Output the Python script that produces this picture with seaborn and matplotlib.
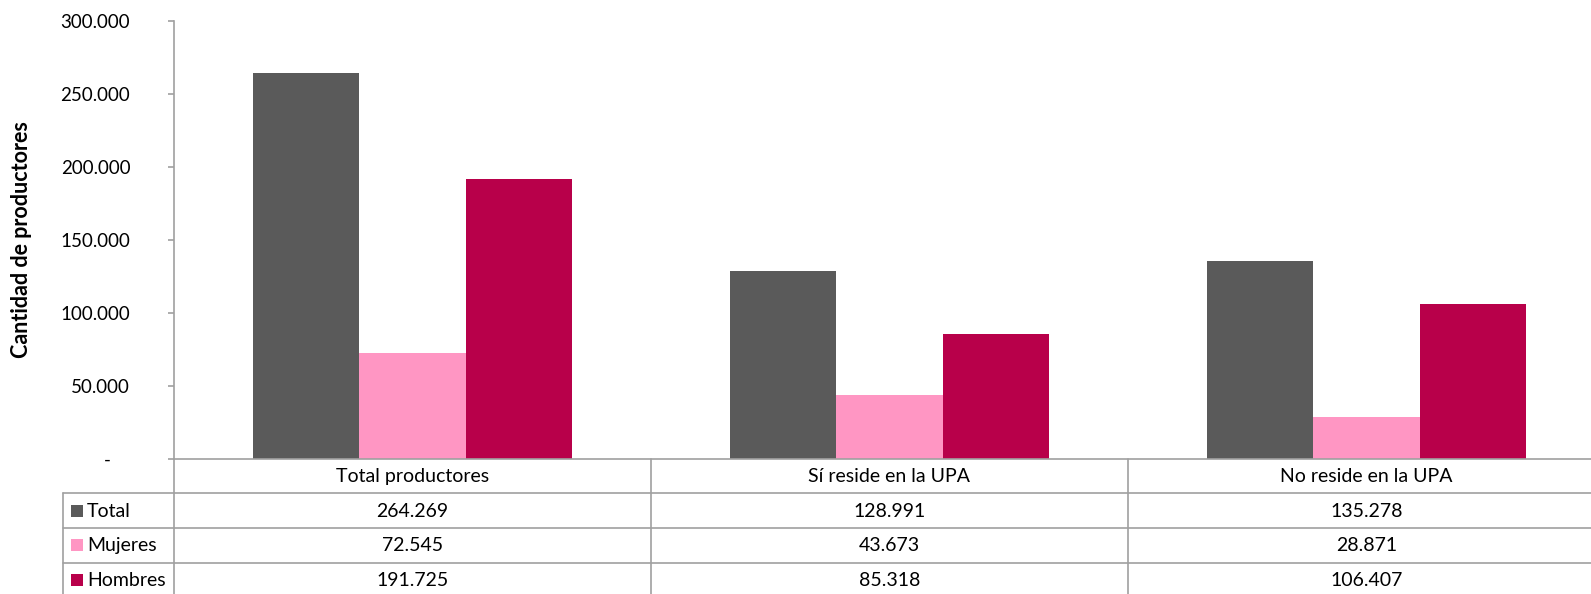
import matplotlib
matplotlib.use("Agg")
import matplotlib.pyplot as plt
import matplotlib.transforms as mtransforms
from matplotlib.ticker import FuncFormatter, MultipleLocator
import seaborn as sns
import pandas as pd

categories = ["Total productores", "Sí reside en la UPA", "No reside en la UPA"]
series = ["Total", "Mujeres", "Hombres"]
total = [264269, 128991, 135278]
mujeres = [72545, 43673, 28871]
hombres = [191725, 85318, 106407]
colors = ["#5A5A5A", "#FF96C3", "#B8004A"]
y_label = "Cantidad de productores"

values = {"Total": total, "Mujeres": mujeres, "Hombres": hombres}
df = pd.DataFrame(
    [(c, s, values[s][i]) for s in series for i, c in enumerate(categories)],
    columns=["cat", "serie", "val"],
)

sns.set_theme(style="white")
plt.rcParams["font.family"] = ["Lato", "DejaVu Sans"]

W, H = 1591, 594
fig = plt.figure(figsize=(W / 100, H / 100), dpi=100)

def fx(px):
    return px / W

def fy(py):
    return 1 - py / H

left_px, right_px = 174, 1605
top_px, base_px = 21, 459
row_h = 34.5
table_bottom_px = base_px + 4 * row_h
fs_table = 14

ax = fig.add_axes([fx(left_px), fy(base_px), fx(right_px - left_px), (base_px - top_px) / H])
sns.barplot(data=df, x="cat", y="val", hue="serie", hue_order=series,
            palette=colors, saturation=1, width=0.667, legend=False, ax=ax,
            edgecolor="none", errorbar=None)
ax.set_xlim(-0.5, 2.5)
ax.set_ylim(0, 300000)
ax.yaxis.set_major_locator(MultipleLocator(50000))

def fmt(v, pos):
    if abs(v) < 1:
        return "-    "
    return f"{int(round(v)):,}".replace(",", ".")

ax.yaxis.set_major_formatter(FuncFormatter(fmt))
gray = "#A0A0A0"
for s in ["top", "right", "bottom"]:
    ax.spines[s].set_visible(False)
ax.spines["left"].set_color(gray)
ax.spines["left"].set_linewidth(1.2)
ax.tick_params(axis="y", which="major", left=True, length=4.5, width=1.2, color=gray,
               pad=27, labelsize=13.5, labelcolor="#000000")
ax.tick_params(axis="x", bottom=False, labelbottom=False)
ax.set_xlabel("")
ax.set_ylabel(y_label, fontsize=15.5, fontweight="bold", color="#000000")
ax.yaxis.set_label_coords(-0.0995, 0.5)

# data table
tax = fig.add_axes([fx(left_px), fy(table_bottom_px), fx(right_px - left_px), (table_bottom_px - base_px) / H])
tax.set_xlim(-0.5, 2.5)
tax.set_ylim(4, 0)
tax.axis("off")
lw = 1.2
blend = mtransforms.blended_transform_factory(fig.transFigure, tax.transData)
tax.plot([-0.5, 2.5], [0, 0], color=gray, lw=lw, clip_on=False)
for r in range(1, 5):
    tax.plot([fx(63), fx(W + 50)], [r, r], color=gray, lw=lw, clip_on=False, transform=blend)
for xb in [-0.5, 0.5, 1.5, 2.5]:
    tax.plot([xb, xb], [0, 4], color=gray, lw=lw, clip_on=False)
tax.plot([fx(63), fx(63)], [1, 4], color=gray, lw=lw, clip_on=False, transform=blend)

for i, c in enumerate(categories):
    tax.text(i, 0.52, c, ha="center", va="center", fontsize=fs_table, color="#000000")
for r, s in enumerate(series):
    vals = values[s]
    for i in range(len(categories)):
        tax.text(i, r + 1.52, fmt(vals[i], None), ha="center", va="center",
                 fontsize=fs_table, color="#000000")
    tax.scatter([fx(77)], [r + 1.5], marker="s", s=8.6 ** 2, color=colors[r],
                transform=blend, clip_on=False, linewidths=0)
    tax.text(fx(87), r + 1.52, s, ha="left", va="center", fontsize=fs_table,
             color="#000000", transform=blend)

fig.savefig("out.png", dpi=100)
